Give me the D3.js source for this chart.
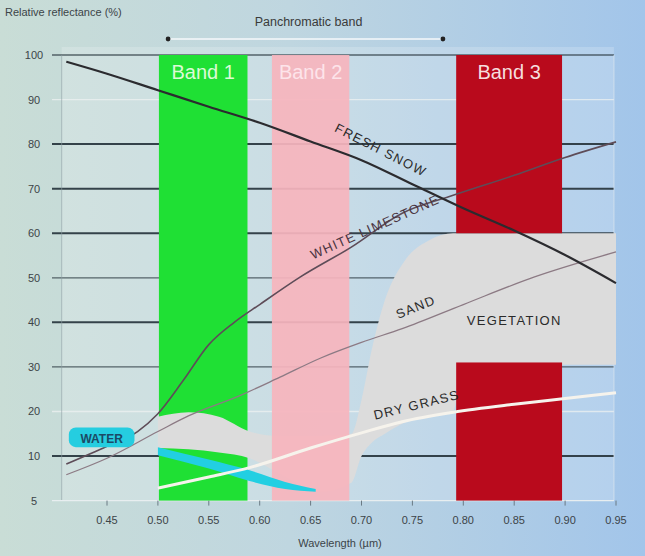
<!DOCTYPE html>
<html>
<head>
<meta charset="utf-8">
<script src="https://cdn.jsdelivr.net/npm/d3@7"></script>
<style>
  body { margin: 0; background: #b8d2e2; }
  svg { display: block; font-family: "Liberation Sans", Arial, sans-serif; }
</style>
</head>
<body>
<svg id="chart" width="645" height="556"></svg>
<script>
// tick values / labels
const xTicks = [0.45, 0.50, 0.55, 0.60, 0.65, 0.70, 0.75, 0.80, 0.85, 0.90, 0.95];
const yTicks = [0, 10, 20, 30, 40, 50, 60, 70, 80, 90, 100];
const yTickLabels = ["5", "10", "20", "30", "40", "50", "60", "70", "80", "90", "100"];

// spectral bands [name, from, to]
const bands = [
    ["Band 1", 0.501, 0.588],
    ["Band 2", 0.612, 0.688],
    ["Band 3", 0.793, 0.897]
];
const panBand = [0.51, 0.78];

// reflectance curves [wavelength, %]
const freshSnow = [[0.41, 98.5], [0.45, 95.8], [0.50, 92.1], [0.55, 88.4], [0.60, 84.8], [0.65, 80.6],
    [0.70, 76.4], [0.75, 71.0], [0.80, 65.6], [0.85, 60.6], [0.90, 55.1], [0.95, 48.8]];
const whiteLimestone = [[0.41, 8.2], [0.45, 12.2], [0.48, 15.5], [0.50, 19.5], [0.525, 27], [0.55, 35],
    [0.575, 40], [0.60, 44], [0.64, 50.2], [0.69, 56.9], [0.74, 64.5], [0.79, 68.5], [0.85, 73], [0.90, 77], [0.95, 80.5]];
const sand = [[0.41, 5.8], [0.45, 9.5], [0.50, 15.5], [0.53, 19], [0.58, 23.5], [0.62, 27.7], [0.66, 32],
    [0.70, 35.5], [0.74, 38.6], [0.80, 44], [0.87, 50.2], [0.95, 55.8]];
const dryGrass = [[0.50, 2.8], [0.55, 5.3], [0.59, 7.4], [0.65, 11.8], [0.70, 15.2], [0.74, 17.7],
    [0.79, 19.8], [0.85, 21.6], [0.90, 22.9], [0.95, 24.2]];

// envelopes [wavelength, low, high]
const vegetation = [[0.50, 11.8, 18.8], [0.53, 11.5, 19.8], [0.56, 10.8, 18.8], [0.59, 9.5, 15.5],
    [0.62, 6, 14.5], [0.66, 2, 14.5], [0.69, 4, 15], [0.70, 10, 22.6], [0.71, 13, 33.8], [0.723, 15, 45],
    [0.743, 17.6, 54], [0.767, 18.9, 58.5], [0.79, 20, 60], [0.80, 30.5, 60], [0.85, 30.5, 60], [0.95, 30.5, 60]];
const water = [[0.50, 10.2, 12.0], [0.55, 7.2, 9.2], [0.59, 4.4, 6.8], [0.625, 2.6, 4.2], [0.655, 2.0, 2.6]];

const svg = d3.select("#chart");
const W = 645, H = 556;

const x = d3.scaleLinear().domain([0.45, 0.95]).range([107, 616]);
const y = d3.scaleLinear().domain([0, 100]).range([500.6, 55]);
const xLeft = x(0.4055), xRight = x(0.948);

// background
const defs = svg.append("defs");
const grad = defs.append("linearGradient").attr("id", "bg");
grad.append("stop").attr("offset", "0%").attr("stop-color", "#c9ddd6");
grad.append("stop").attr("offset", "45%").attr("stop-color", "#bfd6e0");
grad.append("stop").attr("offset", "100%").attr("stop-color", "#a2c5ea");
svg.append("rect").attr("width", W).attr("height", H).attr("fill", "url(#bg)");
svg.append("rect")
    .attr("x", xLeft).attr("y", y(100) - 8)
    .attr("width", xRight - xLeft).attr("height", y(0) - y(100) + 8)
    .attr("fill", "#ffffff").attr("opacity", 0.18);

// gridlines
const strong = [10, 40, 60, 70, 80];
const light = [20, 90];
svg.append("g").selectAll("line")
    .data(yTicks.filter(d => d > 0))
    .join("line")
    .attr("x1", 52).attr("x2", xRight)
    .attr("y1", d => y(d)).attr("y2", d => y(d))
    .attr("stroke", d => light.includes(d) ? "#eef2f2" : "#2c3a42")
    .attr("stroke-width", d => strong.includes(d) ? 2 : 1.3)
    .attr("opacity", d => strong.includes(d) ? 0.95 : 0.75);

// axis lines
svg.append("line").attr("x1", xLeft).attr("x2", xLeft).attr("y1", y(100)).attr("y2", y(0))
    .attr("stroke", "#8fa0a6").attr("stroke-width", 1).attr("opacity", 0.6);
svg.append("line").attr("x1", xRight).attr("x2", xRight).attr("y1", y(100)).attr("y2", y(0))
    .attr("stroke", "#dfe8f0").attr("stroke-width", 1).attr("opacity", 0.7);
svg.append("line").attr("x1", 52).attr("x2", xRight).attr("y1", y(0)).attr("y2", y(0))
    .attr("stroke", "#e8eef0").attr("stroke-width", 1.2);
svg.append("g").selectAll("line")
    .data(xTicks)
    .join("line")
    .attr("x1", d => x(d)).attr("x2", d => x(d))
    .attr("y1", y(0)).attr("y2", y(0) + 5)
    .attr("stroke", "#6a7a84").attr("stroke-width", 1);

const bandColor = { "Band 1": "#1fe034", "Band 2": "#f6b5bd", "Band 3": "#b90a1c" };
const band = d => bands.find(b => b[0] === d);

// band 1 (under vegetation)
const b1 = band("Band 1");
svg.append("rect")
    .attr("x", x(b1[1])).attr("y", y(100))
    .attr("width", x(b1[2]) - x(b1[1])).attr("height", y(0) - y(100))
    .attr("fill", bandColor["Band 1"]);

// vegetation envelope
const area = d3.area()
    .x(d => x(d[0])).y0(d => y(d[1])).y1(d => y(d[2]))
    .curve(d3.curveMonotoneX);
svg.append("path").datum(vegetation).attr("d", area).attr("fill", "#dcdcdc");

// band 2 (pink, over vegetation)
const b2 = band("Band 2");
svg.append("rect")
    .attr("x", x(b2[1])).attr("y", y(100))
    .attr("width", x(b2[2]) - x(b2[1])).attr("height", y(0) - y(100))
    .attr("fill", bandColor["Band 2"]).attr("opacity", 0.93);

// band 3 split by the vegetation window
const b3 = band("Band 3");
[[60, 100], [0, 31]].forEach(r => {
    svg.append("rect")
        .attr("x", x(b3[1])).attr("y", y(r[1]))
        .attr("width", x(b3[2]) - x(b3[1])).attr("height", y(r[0]) - y(r[1]))
        .attr("fill", bandColor["Band 3"]);
});

// water envelope
svg.append("path").datum(water).attr("d", area).attr("fill", "#22cfe2");

// curves
const line = d3.line().x(d => x(d[0])).y(d => y(d[1])).curve(d3.curveMonotoneX);
svg.append("path").datum(dryGrass).attr("d", line)
    .attr("fill", "none").attr("stroke", "#f6f3ec").attr("stroke-width", 3);
svg.append("path").datum(sand).attr("d", line)
    .attr("fill", "none").attr("stroke", "#8c7a84").attr("stroke-width", 1.3);
svg.append("path").datum(whiteLimestone).attr("d", line)
    .attr("fill", "none").attr("stroke", "#5e4c58").attr("stroke-width", 1.6);
svg.append("path").datum(freshSnow).attr("d", line)
    .attr("fill", "none").attr("stroke", "#2b2b2f").attr("stroke-width", 2.2);

// band labels
svg.append("g").selectAll("text")
    .data(bands)
    .join("text")
    .attr("x", d => (x(d[1]) + x(d[2])) / 2)
    .attr("y", y(100) + 24)
    .attr("text-anchor", "middle")
    .attr("font-size", 20)
    .attr("fill", d => d[0] === "Band 2" ? "#fde4ea" : d[0] === "Band 1" ? "#dcfbd6" : "#f6dede")
    .text(d => d[0]);

// panchromatic band marker
svg.append("line")
    .attr("x1", x(panBand[0])).attr("x2", x(panBand[1]))
    .attr("y1", 39).attr("y2", 39)
    .attr("stroke", "#f6f9fb").attr("stroke-width", 1.6);
svg.append("g").selectAll("circle")
    .data(panBand)
    .join("circle")
    .attr("cx", d => x(d)).attr("cy", 39).attr("r", 2.4)
    .attr("fill", "#222");
svg.append("text")
    .attr("x", (x(panBand[0]) + x(panBand[1])) / 2 + 3).attr("y", 26)
    .attr("text-anchor", "middle").attr("font-size", 12.5).attr("fill", "#3a3a3a")
    .text("Panchromatic band");

// curve labels
function curveLabel(txt, wl, val, angle, color) {
    svg.append("text")
        .attr("transform", `translate(${x(wl)},${y(val)}) rotate(${angle})`)
        .attr("text-anchor", "middle")
        .attr("font-size", 13)
        .attr("letter-spacing", 1.3)
        .attr("fill", color || "#2a2a2a")
        .text(txt);
}
curveLabel("FRESH SNOW", 0.717, 77.8, 27);
curveLabel("WHITE LIMESTONE", 0.715, 60.5, -24, "#4a3440");
curveLabel("SAND", 0.755, 42.5, -22);
curveLabel("VEGETATION", 0.85, 39.5, 0);
curveLabel("DRY GRASS", 0.755, 20.5, -14);

// water tag
svg.append("rect")
    .attr("x", x(0.4125)).attr("y", y(16.4))
    .attr("width", x(0.477) - x(0.4125)).attr("height", y(12) - y(16.4))
    .attr("rx", 7).attr("fill", "#25cde0");
svg.append("text")
    .attr("x", (x(0.4125) + x(0.477)) / 2).attr("y", y(12.9))
    .attr("text-anchor", "middle").attr("font-size", 12).attr("font-weight", "bold")
    .attr("fill", "#1b4a66").text("WATER");

// axis labels
svg.append("g").selectAll("text")
    .data(yTicks)
    .join("text")
    .attr("x", 34).attr("y", d => y(d) + 4)
    .attr("text-anchor", "middle").attr("font-size", 11).attr("fill", "#3c4448")
    .text((d, i) => yTickLabels[i]);
svg.append("g").selectAll("text")
    .data(xTicks)
    .join("text")
    .attr("x", d => x(d)).attr("y", 524)
    .attr("text-anchor", "middle").attr("font-size", 11).attr("fill", "#3c4448")
    .text(d => d.toFixed(2));
svg.append("text")
    .attr("x", 5).attr("y", 16)
    .attr("font-size", 11).attr("fill", "#3c4448")
    .text("Relative reflectance (%)");
svg.append("text")
    .attr("x", 340).attr("y", 547)
    .attr("text-anchor", "middle").attr("font-size", 11).attr("fill", "#3c4448")
    .text("Wavelength (µm)");
</script>
</body>
</html>
